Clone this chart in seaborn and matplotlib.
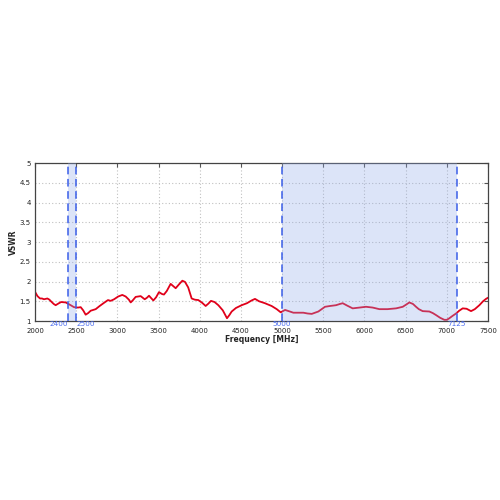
import numpy as np
import pandas as pd
import matplotlib
matplotlib.use("Agg")
import matplotlib.pyplot as plt
import seaborn as sns

freq = [2000, 2030, 2061, 2085, 2109, 2150, 2175, 2198, 2228, 2251, 2290, 2317, 2373,
        2433, 2474, 2520, 2555, 2585, 2615, 2645, 2676, 2737, 2785, 2838, 2886, 2919,
        2960, 3010, 3060, 3101, 3140, 3162, 3190, 3222, 3283, 3332, 3360, 3384, 3410,
        3437, 3470, 3505, 3545, 3566, 3600, 3647, 3680, 3708, 3745, 3789, 3821, 3860,
        3902, 3940, 3983, 4030, 4072, 4105, 4137, 4180, 4226, 4280, 4331, 4360, 4388,
        4440, 4509, 4573, 4630, 4671, 4720, 4792, 4873, 4935, 4983, 5036, 5080, 5137,
        5200, 5258, 5310, 5360, 5440, 5521, 5582, 5655, 5700, 5736, 5790, 5857, 5940,
        6019, 6100, 6181, 6280, 6384, 6465, 6510, 6545, 6590, 6626, 6660, 6707, 6788,
        6830, 6869, 6920, 6970, 7000, 7031, 7070, 7112, 7150, 7193, 7240, 7294, 7340,
        7395, 7440, 7476, 7500]
vswr = [1.74, 1.63, 1.57, 1.57, 1.55, 1.57, 1.54, 1.49, 1.43, 1.40, 1.45, 1.48, 1.47,
        1.40, 1.35, 1.34, 1.35, 1.27, 1.16, 1.20, 1.26, 1.30, 1.38, 1.46, 1.53, 1.51,
        1.55, 1.62, 1.66, 1.62, 1.54, 1.47, 1.53, 1.61, 1.63, 1.55, 1.59, 1.64, 1.58,
        1.52, 1.60, 1.73, 1.68, 1.67, 1.76, 1.94, 1.88, 1.83, 1.92, 2.02, 1.99, 1.85,
        1.57, 1.54, 1.53, 1.46, 1.38, 1.44, 1.51, 1.48, 1.40, 1.27, 1.07, 1.15, 1.24,
        1.33, 1.40, 1.45, 1.52, 1.56, 1.50, 1.45, 1.38, 1.30, 1.22, 1.28, 1.25, 1.21,
        1.21, 1.21, 1.19, 1.18, 1.24, 1.36, 1.38, 1.40, 1.43, 1.45, 1.39, 1.32, 1.34,
        1.36, 1.34, 1.30, 1.30, 1.32, 1.36, 1.42, 1.47, 1.43, 1.36, 1.30, 1.25, 1.24,
        1.20, 1.15, 1.08, 1.03, 1.03, 1.07, 1.13, 1.19, 1.26, 1.32, 1.31, 1.25, 1.30,
        1.40, 1.50, 1.56, 1.59]
bands = [(2400, 2500), (5000, 7125)]
band_labels = ["2400", "2500", "5000", "7125"]

df = pd.DataFrame({"freq": freq, "vswr": vswr})

sns.set_style("white")
plt.rcParams["font.family"] = ["DejaVu Sans"]
fig = plt.figure(figsize=(5, 5), dpi=100)
ax = fig.add_axes([0.07, 0.358, 0.906, 0.316])

sns.lineplot(data=df, x="freq", y="vswr", color="#e0001a", linewidth=1.3, ax=ax, zorder=2)
for l in ax.lines:
    l.set_solid_joinstyle("round")
    l.set_solid_capstyle("round")

band_color = "#8ea8e8"
for lo, hi in bands:
    ax.axvspan(lo, hi, color=band_color, alpha=0.3, zorder=3, lw=0)
    for v in (lo, hi):
        ax.axvline(v, color="#3a5ee8", linestyle=(0, (5, 3)), linewidth=1.1, zorder=4)

ax.set_xlim(2000, 7500)
ax.set_ylim(1, 5)
ax.set_xticks(np.arange(2000, 7501, 500))
ax.set_yticks(np.arange(1, 5.01, 0.5))
ax.set_yticklabels(["1", "1.5", "2", "2.5", "3", "3.5", "4", "4.5", "5"])
ax.grid(True, color="#c0c0c0", linestyle=(0, (1, 2)), linewidth=0.8)
ax.set_axisbelow(True)
ax.tick_params(direction="in", length=3, labelsize=5, top=True, right=True,
               color="#555555", labelcolor="#222222")
ax.tick_params(axis="x", pad=5)
ax.tick_params(axis="y", pad=3)
for s in ax.spines.values():
    s.set_color("#444444")
    s.set_linewidth(0.9)
ax.set_xlabel("Frequency [MHz]", fontsize=5.5, fontweight="bold", labelpad=1)
ax.set_ylabel("VSWR", fontsize=5.5, fontweight="bold", labelpad=1)

lab_col = "#4a6cf0"
ytxt = -0.003
trans = ax.get_xaxis_transform()
ax.text(2400, ytxt, band_labels[0], transform=trans, ha="right", va="top", fontsize=5.2, color=lab_col)
ax.text(2500, ytxt, band_labels[1], transform=trans, ha="left", va="top", fontsize=5.2, color=lab_col)
ax.text(5000, ytxt, band_labels[2], transform=trans, ha="center", va="top", fontsize=5.2, color=lab_col)
ax.text(7125, ytxt, band_labels[3], transform=trans, ha="center", va="top", fontsize=5.2, color=lab_col)

fig.savefig("out.png", dpi=100)
